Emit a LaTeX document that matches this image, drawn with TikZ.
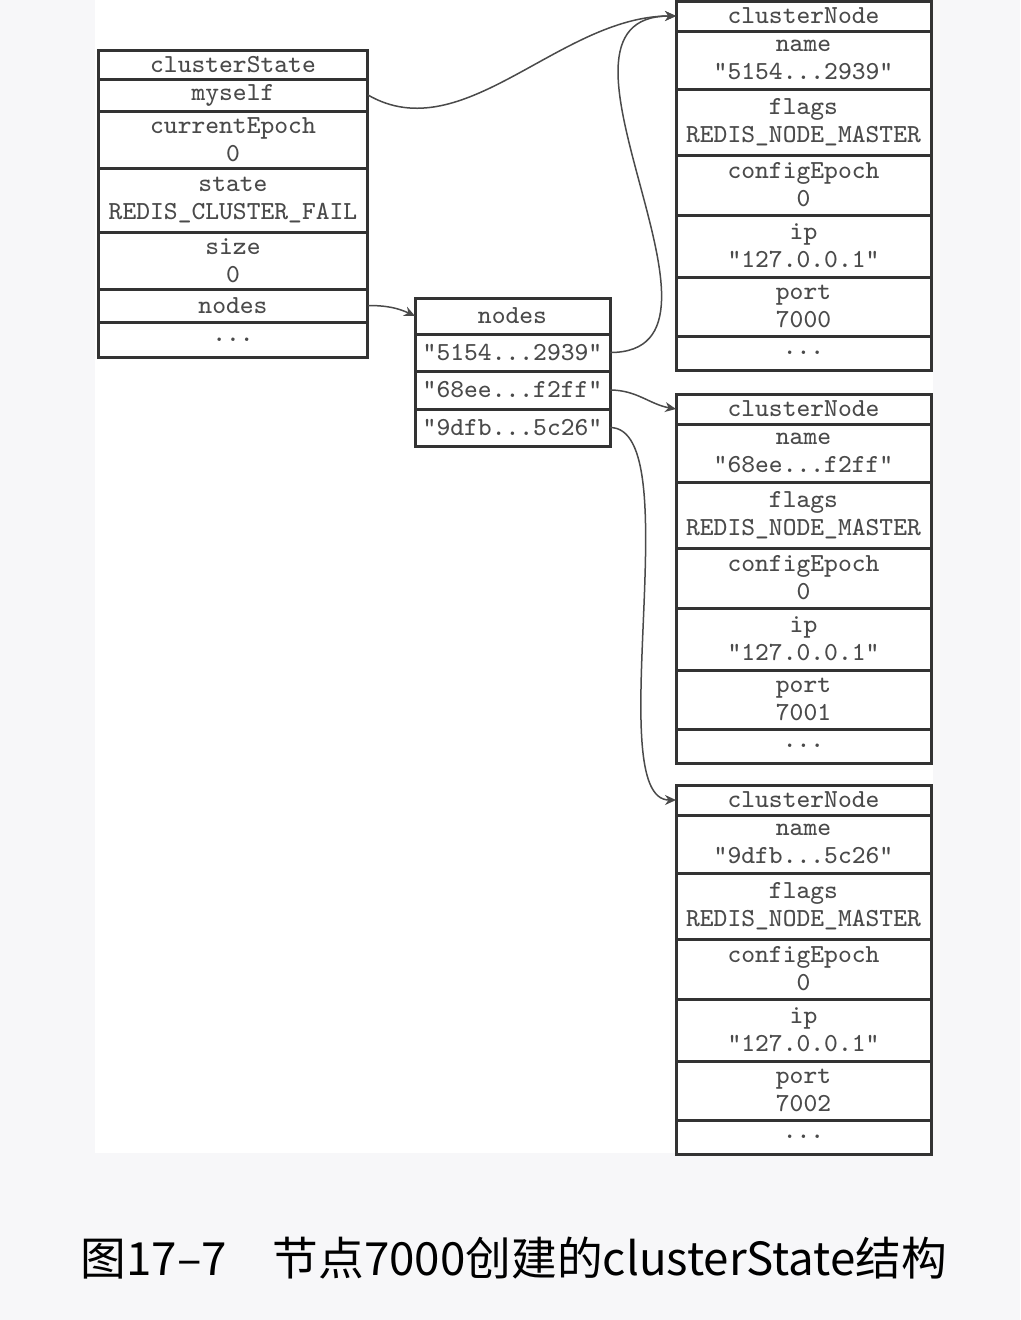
\documentclass[tikz,border=0pt]{standalone}
\usepackage{fontspec}
\newfontfamily\cjkfont{Noto Sans CJK SC}
\usetikzlibrary{positioning, arrows.meta}

\definecolor{pagebg}{HTML}{F7F7F9}
\definecolor{boxline}{HTML}{333333}
\definecolor{boxtext}{HTML}{4A4A4A}
\definecolor{linkline}{HTML}{4A4A4A}

\tikzset{
    field/.style={draw=boxline, line width=0.3mm, outer sep=0pt, inner sep=0pt,
        minimum width=#1, align=center, text=boxtext,
        font=\ttfamily\fontsize{7.4}{8}\selectfont},
    link/.style={->, draw=linkline, line width=0.15mm},
}

\begin{document}
\begin{tikzpicture}[x=0.1mm, y=0.1mm, >={Stealth[length=1.1mm, width=1mm]}]
            % Nền
            \useasboundingbox (0, 0) rectangle (1020, -1320);
            \fill[pagebg] (0, 0) rectangle (1020, -1320);
            \fill[white] (95, 0) rectangle (933, -1153);
            
            % Cấu trúc clusterState
            \node[field=27mm, minimum height=2.9mm, anchor=north west] (cs-head) at (98, -50) {clusterState};
            \node[field=27mm, minimum height=3.2mm, below=0pt of cs-head] (cs-myself) {myself};
            \node[field=27mm, minimum height=5.7mm, below=0pt of cs-myself] (cs-epoch) {currentEpoch\\0};
            \node[field=27mm, minimum height=6.4mm, below=0pt of cs-epoch] (cs-state) {state\\REDIS\_CLUSTER\_FAIL};
            \node[field=27mm, minimum height=5.7mm, below=0pt of cs-state] (cs-size) {size\\0};
            \node[field=27mm, minimum height=3.3mm, below=0pt of cs-size] (cs-nodes) {nodes};
            \node[field=27mm, minimum height=3.5mm, below=0pt of cs-nodes] (cs-more) {...};
            
            % Từ điển nodes
            \node[field=19.5mm, minimum height=3.6mm, anchor=north west] (ns-head) at (415, -298) {nodes};
            \node[field=19.5mm, minimum height=3.7mm, below=0pt of ns-head] (ns-a) {"5154...2939"};
            \node[field=19.5mm, minimum height=3.8mm, below=0pt of ns-a] (ns-b) {"68ee...f2ff"};
            \node[field=19.5mm, minimum height=3.7mm, below=0pt of ns-b] (ns-c) {"9dfb...5c26"};
            
            % Ba cấu trúc clusterNode
            \foreach \i/\top/\ha/\hb/\port in {1/1/5154/2939/7000, 2/394/68ee/f2ff/7001, 3/785/9dfb/5c26/7002} {
                \node[field=25.5mm, minimum height=3mm, anchor=north west] (cn\i-head) at (676, -\top) {clusterNode};
                \node[field=25.5mm, minimum height=5.8mm, below=0pt of cn\i-head] (cn\i-name) {name\\"\ha...\hb"};
                \node[field=25.5mm, minimum height=6.6mm, below=0pt of cn\i-name] (cn\i-flags) {flags\\REDIS\_NODE\_MASTER};
                \node[field=25.5mm, minimum height=6mm, below=0pt of cn\i-flags] (cn\i-epoch) {configEpoch\\0};
                \node[field=25.5mm, minimum height=6.2mm, below=0pt of cn\i-epoch] (cn\i-ip) {ip\\"127.0.0.1"};
                \node[field=25.5mm, minimum height=5.9mm, below=0pt of cn\i-ip] (cn\i-port) {port\\\port};
                \node[field=25.5mm, minimum height=3.4mm, below=0pt of cn\i-port] (cn\i-more) {...};
            }
            
            % Các con trỏ
            \draw[link] (cs-myself.east) to[out=-30, in=180, out distance=11mm, in distance=11.6mm] (cn1-head.west);
            \draw[link] (cs-nodes.east) to[out=0, in=155] (ns-head.west);
            \draw[link] (ns-a.east) to[out=0, in=180, out distance=15mm, in distance=15.6mm] (cn1-head.west);
            \draw[link] (ns-b.east) to[out=0, in=170] (cn2-head.west);
            \draw[link] (ns-c.east) to[out=0, in=180, out distance=8mm, in distance=7.6mm] (cn3-head.west);
            
            % Chú thích
            \node[font=\cjkfont\fontsize{13}{15}\selectfont] (caption) at (514, -1258) {图17–7　节点7000创建的clusterState结构};
        \end{tikzpicture}
\end{document}
